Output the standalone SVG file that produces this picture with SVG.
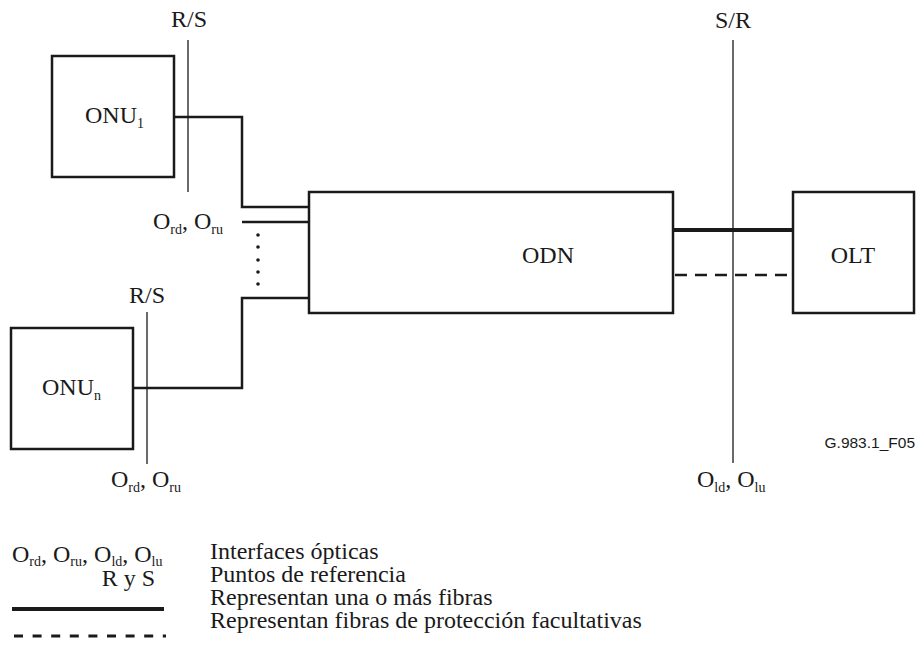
<svg xmlns="http://www.w3.org/2000/svg" width="916" height="646" viewBox="0 0 916 646">
<rect width="916" height="646" fill="#fff"/>
<g id="connectors" fill="none" stroke="#1a1a1a" stroke-width="2.5">
<polyline points="174,117 242,117 242,207 309,207"/>
<line x1="242" y1="222" x2="309" y2="222"/>
<polyline points="133,388 242,388 242,298 309,298"/>
<g fill="#1a1a1a" stroke="none">
<circle cx="258" cy="235" r="1.8"/><circle cx="258" cy="247" r="1.8"/><circle cx="258" cy="260" r="1.8"/><circle cx="258" cy="272" r="1.8"/><circle cx="258" cy="284" r="1.8"/>
</g>
<line x1="673" y1="230" x2="793" y2="230" stroke-width="4"/>
<line x1="675" y1="275" x2="793" y2="275" stroke-dasharray="12 8"/>
<g stroke-width="1.3">
<line x1="188" y1="40" x2="188" y2="192"/>
<line x1="147" y1="312" x2="147" y2="464"/>
<line x1="733" y1="40" x2="733" y2="463"/>
</g>
</g>
<g id="onu1">
<rect x="52" y="56" width="122" height="121" fill="#fff" stroke="#1a1a1a" stroke-width="2.5"/>
<text font-family="Liberation Serif" font-size="24" fill="#1a1a1a" x="85" y="123">ONU<tspan font-size="14" dy="5">1</tspan></text>
</g>
<g id="onun">
<rect x="11" y="328" width="122" height="121" fill="#fff" stroke="#1a1a1a" stroke-width="2.5"/>
<text font-family="Liberation Serif" font-size="24" fill="#1a1a1a" x="42" y="395">ONU<tspan font-size="14" dy="5">n</tspan></text>
</g>
<g id="odn">
<rect x="309" y="192" width="364" height="121" fill="#fff" stroke="#1a1a1a" stroke-width="2.5"/>
<text font-family="Liberation Serif" font-size="24" fill="#1a1a1a" x="548" y="263" text-anchor="middle">ODN</text>
</g>
<g id="olt">
<rect x="793" y="192" width="121" height="121" fill="#fff" stroke="#1a1a1a" stroke-width="2.5"/>
<text font-family="Liberation Serif" font-size="24" fill="#1a1a1a" x="853" y="263" text-anchor="middle">OLT</text>
</g>
<g id="labels" fill="#1a1a1a">
<text font-family="Liberation Serif" font-size="24" x="189" y="27" text-anchor="middle">R/S</text>
<text font-family="Liberation Serif" font-size="24" x="147" y="303" text-anchor="middle">R/S</text>
<text font-family="Liberation Serif" font-size="24" x="733" y="28" text-anchor="middle">S/R</text>
<text font-family="Liberation Serif" font-size="24" x="153" y="229">O<tspan font-size="14" dy="5">rd</tspan><tspan dy="-5">, O</tspan><tspan font-size="14" dy="5">ru</tspan></text>
<text font-family="Liberation Serif" font-size="24" x="111" y="487">O<tspan font-size="14" dy="5">rd</tspan><tspan dy="-5">, O</tspan><tspan font-size="14" dy="5">ru</tspan></text>
<text font-family="Liberation Serif" font-size="24" x="697" y="487">O<tspan font-size="14" dy="5">ld</tspan><tspan dy="-5">, O</tspan><tspan font-size="14" dy="5">lu</tspan></text>
<text font-family="Liberation Sans" font-size="15.5" x="915" y="448" text-anchor="end">G.983.1_F05</text>
</g>
<g id="legend" fill="#1a1a1a">
<text font-family="Liberation Serif" font-size="24" x="12" y="562">O<tspan font-size="14" dy="4">rd</tspan><tspan dy="-4">, O</tspan><tspan font-size="14" dy="4">ru</tspan><tspan dy="-4">, O</tspan><tspan font-size="14" dy="4">ld</tspan><tspan dy="-4">, O</tspan><tspan font-size="14" dy="4">lu</tspan></text>
<text font-family="Liberation Serif" font-size="24" x="155" y="586" text-anchor="end">R y S</text>
<line x1="12" y1="609" x2="164" y2="609" stroke="#1a1a1a" stroke-width="4"/>
<line x1="14" y1="636" x2="166" y2="636" stroke="#1a1a1a" stroke-width="3" stroke-dasharray="9 9.6"/>
<text font-family="Liberation Serif" font-size="24" x="210" y="559">Interfaces ópticas</text>
<text font-family="Liberation Serif" font-size="24" x="210" y="582">Puntos de referencia</text>
<text font-family="Liberation Serif" font-size="24" x="210" y="605">Representan una o más fibras</text>
<text font-family="Liberation Serif" font-size="24" x="210" y="628">Representan fibras de protección facultativas</text>
</g>
</svg>
